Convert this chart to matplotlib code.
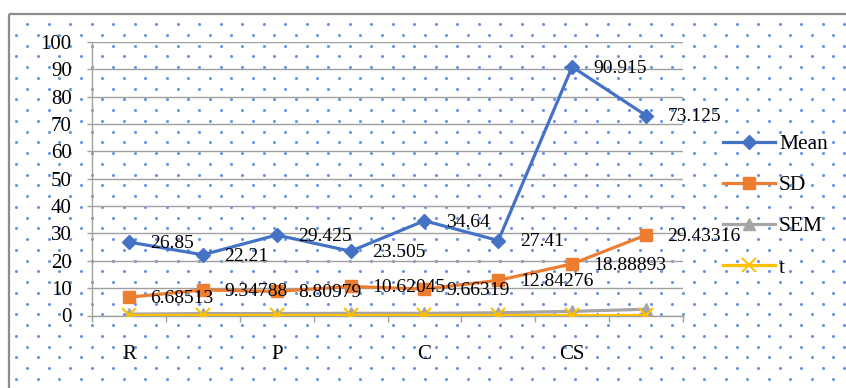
import matplotlib
matplotlib.use("Agg")
import matplotlib.pyplot as plt
import numpy as np
from matplotlib.patches import Rectangle

categories = ["R", "", "P", "", "C", "", "CS", ""]
mean = [26.85, 22.21, 29.425, 23.505, 34.64, 27.41, 90.915, 73.125]
sd = [6.68513, 9.34788, 8.80979, 10.62045, 9.66319, 12.84276, 18.88893, 29.43316]
sem = [0.5, 0.7, 0.7, 0.8, 0.8, 1.0, 1.5, 2.3]
tval = [0.3, 0.3, 0.3, 0.3, 0.3, 0.3, 0.3, 0.3]
yticks = [0, 10, 20, 30, 40, 50, 60, 70, 80, 90, 100]

W, H = 846, 388
DPI = 100
plt.rcParams['font.family'] = ['Liberation Serif', 'DejaVu Serif']
FS_TICK = 15
FS_LEG = 15.5
FS_LBL = 14

fig = plt.figure(figsize=(W / DPI, H / DPI), dpi=DPI)
fig.patch.set_facecolor('white')

# background pattern axes
bg = fig.add_axes([0, 0, 1, 1], zorder=-5)
bg.set_xlim(0, W)
bg.set_ylim(H, 0)
bg.axis('off')
xs, ys = [], []
j = -2
y = 24 - 10.75 * 2
while y < H + 5:
    x0 = 27 if j % 2 == 0 else 16.25
    x = x0 - 21.5
    while x < W + 5:
        if x > 11 and y > 16:
            xs.append(x)
            ys.append(y)
        x += 21.5
    y += 10.75
    j += 1
bg.scatter(xs, ys, s=5, color='#5b8ae0', linewidths=0, alpha=0.9)
bg.add_patch(Rectangle((9, 14), W + 20, H + 20, fill=False,
                       edgecolor='#8c8c8c', linewidth=1.6))

left, right = 92 / W, 683 / W
bottom, top = 1 - 315.5 / H, 1 - 42 / H
ax = fig.add_axes([left, bottom, right - left, top - bottom])
ax.set_facecolor('none')

x = np.arange(len(categories))
grid_c = '#a0a0a0'

ax.plot(x, mean, color='#4472C4', lw=2.3, marker='D', ms=7.5, label='Mean', zorder=5)
ax.plot(x, sd, color='#ED7D31', lw=2.3, marker='s', ms=8, label='SD', zorder=5)
ax.plot(x, sem, color='#A5A5A5', lw=2.3, marker='^', ms=8, label='SEM', zorder=5)
ax.plot(x, tval, color='#FFC000', lw=2.3, marker='x', ms=9.5, mew=1.5, label='t', zorder=6)

for xi, v in zip(x, mean):
    ax.annotate(str(v), (xi, v), xytext=(15.5, -1), textcoords='offset points',
                ha='left', va='center', fontsize=FS_LBL, zorder=10)
for xi, v in zip(x, sd):
    ax.annotate(str(v), (xi, v), xytext=(15.5, -1), textcoords='offset points',
                ha='left', va='center', fontsize=FS_LBL, zorder=10)

ax.set_xlim(-0.5, len(categories) - 0.5)
ax.set_ylim(0, 100)
ax.set_yticks(yticks)
ax.set_yticklabels([str(v) for v in yticks], fontsize=FS_TICK)
ax.yaxis.grid(True, color=grid_c, lw=1.0)
ax.set_axisbelow(True)
ax.tick_params(axis='y', length=3.6, color=grid_c, width=1.0, pad=11)

ax.set_xticks(x)
ax.set_xticklabels(categories, fontsize=FS_TICK)
ax.set_xticks(np.arange(-0.5, len(categories)), minor=True)
ax.tick_params(axis='x', which='major', length=0, pad=21)
ax.tick_params(axis='x', which='minor', length=4.3, color=grid_c, width=1.0)

for s in ['top', 'right']:
    ax.spines[s].set_visible(False)
ax.spines['left'].set_color(grid_c)
ax.spines['bottom'].set_color(grid_c)
ax.spines['left'].set_linewidth(1.0)
ax.spines['bottom'].set_linewidth(1.0)

leg = ax.legend(loc='upper left', bbox_to_anchor=(723 / W, 1 - 134 / H),
                bbox_transform=fig.transFigure, frameon=False, fontsize=FS_LEG,
                handlelength=2.4, handletextpad=0.2, labelspacing=0.98,
                borderaxespad=0, borderpad=0)

fig.savefig('out.png', dpi=DPI)
